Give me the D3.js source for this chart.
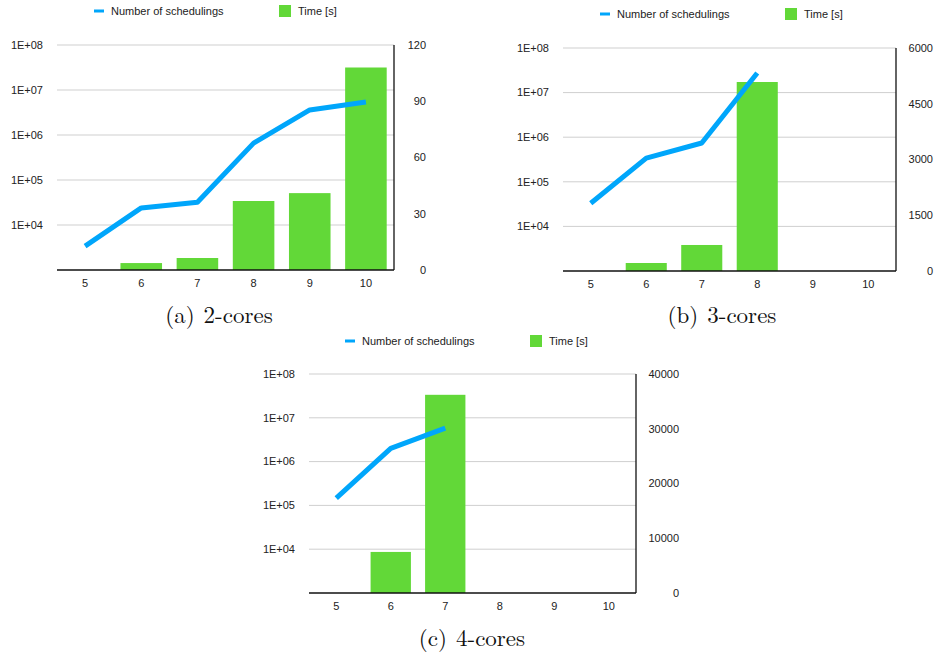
<!DOCTYPE html>
<html>
<head>
<style>
  body, html { margin: 0; padding: 0; background: #fff; }
  text { font-family: "Liberation Sans", Arial, sans-serif; fill: #222; }
  .caption { font-family: "Latin Modern Roman", "DejaVu Serif", "Liberation Serif", serif; font-size: 23px; fill: #111; }
</style>
</head>
<body>
<svg id="svg" width="937" height="656"></svg>
<script src="https://d3js.org/d3.v7.min.js"></script>
<script>
// categories (problem size) shared by all three charts
const categories = [5, 6, 7, 8, 9, 10]

// 2 cores
const sched2 = [3400, 24000, 32000, 660000, 3600000, 5400000]
const time2 = [0, 3.7, 6.4, 36.8, 41, 108]
const timeTicks2 = [0, 30, 60, 90, 120]

// 3 cores
const sched3 = [33000, 340000, 740000, 27500000]
const time3 = [0, 215, 700, 5085]
const timeTicks3 = [0, 1500, 3000, 4500, 6000]

// 4 cores
const sched4 = [147000, 2000000, 5800000]
const time4 = [0, 7500, 36200]
const timeTicks4 = [0, 10000, 20000, 30000, 40000]

const schedTicks = [1e4, 1e5, 1e6, 1e7, 1e8]
const legendLabels = ['Number of schedulings', 'Time [s]']
const captions = [['(a)', '2-cores'], ['(b)', '3-cores'], ['(c)', '4-cores']]

const blue = '#00a6fb'
const green = '#62d838'

const svg = d3.select('#svg')

function drawChart(opts) {
  const { left, right, top, bottom, sched, time, timeTicks, rightLab, legendX, legendY, caption, captionX, captionY } = opts
  const g = svg.append('g')

  const x = d3.scaleBand()
    .domain(categories)
    .range([left, right])
    .paddingInner(0.26)
    .paddingOuter(0.13)

  const yLog = d3.scaleLog().domain([1e3, 1e8]).range([bottom, top])
  const yLin = d3.scaleLinear().domain([0, d3.max(timeTicks)]).range([bottom, top])

  // gridlines
  g.selectAll('.grid')
    .data(schedTicks)
    .join('line')
    .attr('x1', left).attr('x2', right)
    .attr('y1', d => yLog(d)).attr('y2', d => yLog(d))
    .attr('stroke', '#cfcfcf').attr('stroke-width', 1)

  // left labels
  g.selectAll('.llab')
    .data(schedTicks)
    .join('text')
    .attr('x', left - 14)
    .attr('y', d => yLog(d))
    .attr('dy', '0.35em')
    .attr('text-anchor', 'end')
    .attr('font-size', 11)
    .text(d => '1E+0' + Math.round(Math.log10(d)))

  // right labels
  g.selectAll('.rlab')
    .data(timeTicks)
    .join('text')
    .attr('x', right + rightLab)
    .attr('y', d => yLin(d))
    .attr('dy', '0.35em')
    .attr('text-anchor', 'end')
    .attr('font-size', 11)
    .text(d => d)

  // bars
  g.selectAll('.bar')
    .data(time.map((v, i) => ({ c: categories[i], v })).filter(d => d.v > 0))
    .join('rect')
    .attr('x', d => x(d.c))
    .attr('width', x.bandwidth())
    .attr('y', d => yLin(d.v))
    .attr('height', d => yLin(0) - yLin(d.v))
    .attr('fill', green)

  // base line and right axis
  g.append('line')
    .attr('x1', left).attr('x2', right)
    .attr('y1', bottom).attr('y2', bottom)
    .attr('stroke', '#111').attr('stroke-width', 1.5)
  g.append('line')
    .attr('x1', right).attr('x2', right)
    .attr('y1', top).attr('y2', bottom)
    .attr('stroke', '#111').attr('stroke-width', 1.3)

  // x labels
  g.selectAll('.xlab')
    .data(categories)
    .join('text')
    .attr('x', d => x(d) + x.bandwidth() / 2)
    .attr('y', bottom + 13)
    .attr('dy', '0.35em')
    .attr('text-anchor', 'middle')
    .attr('font-size', 11)
    .text(d => d)

  // line
  const line = d3.line()
    .x((d, i) => x(categories[i]) + x.bandwidth() / 2)
    .y(d => yLog(d))
  g.append('path')
    .datum(sched)
    .attr('d', line)
    .attr('fill', 'none')
    .attr('stroke', blue)
    .attr('stroke-width', 5)
    .attr('stroke-linejoin', 'round')

  // legend
  const lg = g.append('g').attr('transform', `translate(${legendX},${legendY})`)
  lg.append('rect').attr('x', 0).attr('y', -1.5).attr('width', 10).attr('height', 3).attr('fill', blue)
  lg.append('text').attr('x', 17).attr('y', 0).attr('dy', '0.35em').attr('font-size', 11).text(legendLabels[0])
  lg.append('rect').attr('x', 185).attr('y', -6).attr('width', 12).attr('height', 12).attr('fill', green)
  lg.append('text').attr('x', 204).attr('y', 0).attr('dy', '0.35em').attr('font-size', 11).text(legendLabels[1])

  // caption
  const cap = svg.append('text')
    .attr('class', 'caption')
    .attr('x', captionX).attr('y', captionY)
    .attr('text-anchor', 'middle')
  cap.append('tspan').text(caption[0])
  cap.append('tspan').attr('dx', 9).text(caption[1])
}

drawChart({ left: 57, right: 394, top: 45, bottom: 270, sched: sched2, time: time2, timeTicks: timeTicks2, rightLab: 32,
  legendX: 94, legendY: 11, caption: captions[0], captionX: 219, captionY: 323 })
drawChart({ left: 563, right: 896, top: 48, bottom: 271, sched: sched3, time: time3, timeTicks: timeTicks3, rightLab: 37,
  legendX: 600, legendY: 14, caption: captions[1], captionX: 722, captionY: 323 })
drawChart({ left: 309, right: 636, top: 374, bottom: 593, sched: sched4, time: time4, timeTicks: timeTicks4, rightLab: 43,
  legendX: 345, legendY: 341, caption: captions[2], captionX: 472, captionY: 646 })
</script>
</body>
</html>
